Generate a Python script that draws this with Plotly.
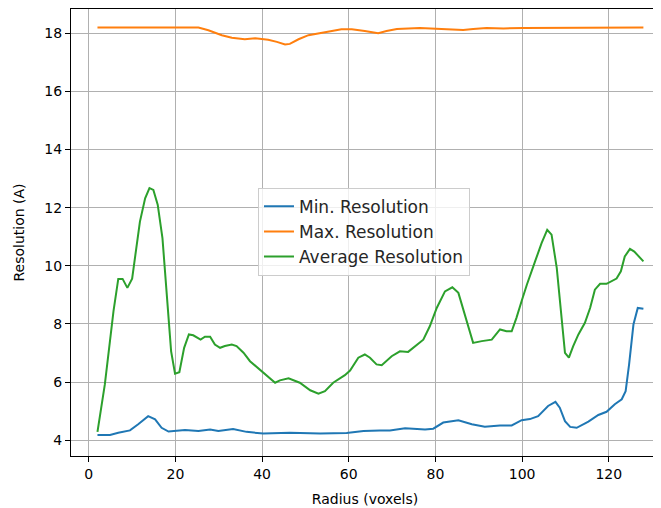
import plotly.graph_objects as go

# Min. Resolution
min_radius = [2, 4.9, 6.8, 9.5, 11.4, 13.7, 15.3, 16.8, 18.4, 22.2, 25.3, 28, 29.9, 33.3,
              36.4, 40.3, 46.4, 53.4, 59.5, 63.4, 67.2, 69.5, 73, 77.6, 79.5, 81.8, 85.3,
              88.4, 91.4, 94.9, 97.6, 99.9, 101.8, 103.7, 106, 107.7, 108.7, 109.9, 111.1,
              112.6, 115.3, 117.6, 119.5, 121.4, 123, 123.9, 124.7, 125.7, 126.7, 128]
min_values = [4.18, 4.18, 4.26, 4.34, 4.55, 4.83, 4.72, 4.43, 4.30, 4.35, 4.32, 4.37, 4.32, 4.39,
              4.29, 4.23, 4.26, 4.23, 4.25, 4.32, 4.34, 4.34, 4.41, 4.37, 4.40, 4.61, 4.69,
              4.55, 4.47, 4.51, 4.51, 4.69, 4.73, 4.83, 5.18, 5.32, 5.12, 4.66, 4.46,
              4.43, 4.64, 4.87, 4.98, 5.24, 5.41, 5.69, 6.61, 7.98, 8.55, 8.52]

# Max. Resolution
max_radius = [2, 25.3, 27.6, 30.7, 33, 36, 38.4, 41.4, 43.4, 45.3, 46.4, 48.4, 50.7, 53,
              56.1, 58.3, 60.7, 63.7, 66.8, 68.7, 71.1, 76.4, 80.3, 86.4, 88.7, 91.8,
              95.7, 100.3, 128]
max_values = [18.19, 18.19, 18.10, 17.93, 17.84, 17.79, 17.82, 17.77, 17.70, 17.61, 17.63,
              17.79, 17.93, 18.00, 18.07, 18.13, 18.13, 18.07, 18.00, 18.07, 18.14, 18.18,
              18.16, 18.11, 18.14, 18.18, 18.16, 18.18, 18.19]

# Average Resolution
avg_radius = [2, 3.7, 5.7, 6.8, 7.8, 8.9, 10, 11.8, 13, 14, 14.9, 15.9, 17, 18, 19, 19.9,
              20.9, 22, 23.1, 24.1, 25.8, 26.8, 28, 29.1, 30.3, 31.4, 33, 34.1, 35.7,
              37.2, 40.3, 43, 44.1, 46.1, 48.7, 51.1, 53, 54.5, 56.4, 59.1, 60.3, 62.2,
              63.7, 64.9, 66.4, 67.6, 69.9, 71.8, 73.7, 75.7, 77.2, 78.7, 80.3, 82.2,
              83.9, 85.3, 86.8, 88.7, 90.7, 93, 94.9, 96.4, 97.6, 98.7, 99.9, 101.1,
              103, 104.5, 105.8, 106.8, 108, 109.1, 109.9, 110.8, 111.8, 113, 114.5,
              115.7, 116.8, 118, 119.5, 121.8, 122.8, 123.7, 124.9, 125.9, 127, 128]
avg_values = [4.29, 5.92, 8.44, 9.55, 9.55, 9.24, 9.56, 11.52, 12.32, 12.67, 12.61, 12.10,
              10.95, 8.90, 7.06, 6.29, 6.34, 7.18, 7.64, 7.61, 7.46, 7.56, 7.56, 7.29,
              7.18, 7.24, 7.29, 7.24, 7.01, 6.72, 6.32, 5.98, 6.06, 6.13, 5.98, 5.72,
              5.60, 5.69, 5.98, 6.24, 6.40, 6.84, 6.95, 6.84, 6.61, 6.58, 6.89, 7.06,
              7.04, 7.27, 7.46, 7.92, 8.55, 9.12, 9.26, 9.07, 8.32, 7.35, 7.41, 7.46,
              7.81, 7.75, 7.75, 8.21, 8.79, 9.35, 10.15, 10.78, 11.24, 11.07, 9.93, 8.21,
              7.01, 6.84, 7.24, 7.64, 8.04, 8.55, 9.18, 9.38, 9.38, 9.56, 9.81, 10.32,
              10.58, 10.49, 10.32, 10.15]

x_ticks = [0, 20, 40, 60, 80, 100, 120]
y_ticks = [4, 6, 8, 10, 12, 14, 16, 18]

FONT = "DejaVu Sans"

fig = go.Figure()
fig.add_trace(go.Scatter(x=min_radius, y=min_values, mode="lines", name="Min. Resolution",
                         line=dict(color="#1f77b4", width=2)))
fig.add_trace(go.Scatter(x=max_radius, y=max_values, mode="lines", name="Max. Resolution",
                         line=dict(color="#ff7f0e", width=2)))
fig.add_trace(go.Scatter(x=avg_radius, y=avg_values, mode="lines", name="Average Resolution",
                         line=dict(color="#2ca02c", width=2)))

axis_common = dict(
    showgrid=True, gridcolor="#b0b0b0", gridwidth=1,
    showline=True, linecolor="black", linewidth=1, mirror=True,
    ticks="outside", ticklen=5, tickwidth=1, tickcolor="black",
    zeroline=False, automargin=False,
    tickfont=dict(family=FONT, size=14, color="black"),
)

# the page body adds an 8px offset, so the figure is sized to the remaining area
fig.update_layout(
    width=653, height=500,
    margin=dict(l=63, r=2, t=1, b=52, autoexpand=False),
    paper_bgcolor="white", plot_bgcolor="white",
    font=dict(family=FONT, size=14, color="black"),
    xaxis=dict(range=[-4.11, 131.6], tickvals=x_ticks,
               title=dict(text="Radius (voxels)", font=dict(family=FONT, size=14), standoff=13),
               **axis_common),
    yaxis=dict(range=[3.46, 18.83], tickvals=y_ticks,
               title=dict(text="Resolution (A)", font=dict(family=FONT, size=14), standoff=16),
               **axis_common),
    legend=dict(x=0.318, y=0.6, xanchor="left", yanchor="top",
                bgcolor="rgba(255,255,255,0.8)", bordercolor="#cccccc", borderwidth=1,
                font=dict(family=FONT, size=17, color="#262626")),
    showlegend=True,
)

fig.write_html("out.html")
